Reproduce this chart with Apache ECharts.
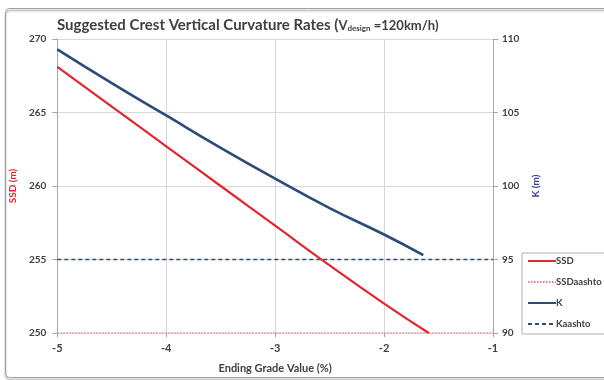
<!DOCTYPE html>
<html>
<head>
<meta charset="utf-8">
<script src="https://cdn.jsdelivr.net/npm/echarts@6/dist/echarts.min.js"></script>
<style>
  html, body { margin: 0; padding: 0; background: #fff; }
  #chart { width: 604px; height: 380px; }
</style>
</head>
<body>
<div id="chart"></div>
<script>
// Ending grade (%) and the resulting sight distance / curvature rate
const gradeSSD = [-5, -4.5, -4, -3.5, -3, -2.5, -2, -1.59];
const ssdValues = [268.1, 265.4, 262.7, 260.0, 257.3, 254.6, 252.0, 250.0];
const gradeK = [-5, -4.5, -4, -3.5, -3, -2.5, -2, -1.64];
const kValues = [109.3, 107.0, 104.8, 102.6, 100.5, 98.5, 96.7, 95.3];
// AASHTO reference levels
const ssdAashto = 250;
const kAashto = 95;
const gradeRange = [-5, -1];

const font = 'Lato, "Open Sans", sans-serif';
const textColor = '#404040';

const chart = echarts.init(document.getElementById('chart'));
chart.setOption({
  animation: false,
  backgroundColor: '#fff',
  graphic: [{
    type: 'rect',
    left: 3, top: 6,
    shape: { width: 612, height: 369, r: 4 },
    style: { fill: 'none', stroke: '#a0a0a0', lineWidth: 1,
      shadowColor: 'rgba(0,0,0,0.45)', shadowOffsetY: 2, shadowBlur: 2 },
    z: -1
  }],
  title: {
    text: 'Suggested Crest Vertical Curvature Rates ({s|V}{sub|design}{s| =120km/h)}',
    left: 52, top: 13,
    textStyle: {
      fontFamily: font, fontSize: 15, fontWeight: 'bold', color: textColor,
      rich: {
        s: { fontFamily: font, fontSize: 13, fontWeight: 'bold', color: textColor },
        sub: { fontFamily: font, fontSize: 8, fontWeight: 'bold', color: textColor, padding: [6, 0, 0, 0] }
      }
    }
  },
  grid: { left: 50, right: 111, top: 39, bottom: 47 },
  legend: {
    orient: 'vertical',
    left: 522, top: 253,
    backgroundColor: '#fff',
    borderColor: '#b0b0b0', borderWidth: 1, borderRadius: 0,
    padding: [3, 20, 5, 5],
    itemGap: 11,
    itemWidth: 28, itemHeight: 8,
    itemStyle: { opacity: 0 },
    textStyle: { fontFamily: font, fontSize: 9.5, fontWeight: 'bold', color: textColor, padding: [0, 0, 0, -5] },
    data: ['SSD', 'SSDaashto', 'K', 'Kaashto']
  },
  xAxis: {
    type: 'value', min: gradeRange[0], max: gradeRange[1], interval: 1,
    name: 'Ending Grade Value (%)', nameLocation: 'middle', nameGap: 30,
    nameTextStyle: { fontFamily: font, fontSize: 11, fontWeight: 'bold', color: textColor },
    axisLine: { show: false },
    axisTick: { show: true, length: 4, lineStyle: { color: '#a6a6a6' } },
    axisLabel: { fontFamily: font, fontSize: 11, fontWeight: 'bold', color: textColor, margin: 10 },
    splitLine: { show: true, lineStyle: { color: '#d9d9d9' } }
  },
  yAxis: [{
    type: 'value', min: 250, max: 270, interval: 5,
    name: 'SSD (m)', nameLocation: 'middle', nameGap: 34, nameRotate: 90,
    nameTextStyle: { fontFamily: font, fontSize: 10, fontWeight: 'bold', color: '#e02a2a' },
    axisLine: { show: true, lineStyle: { color: '#a6a6a6' } },
    axisTick: { show: true, length: 5, lineStyle: { color: '#a6a6a6' } },
    axisLabel: { fontFamily: font, fontSize: 10, fontWeight: 'bold', color: textColor, margin: 11 },
    splitLine: { show: true, lineStyle: { color: '#d9d9d9' } }
  }, {
    type: 'value', min: 90, max: 110, interval: 5,
    name: 'K (m)', nameLocation: 'middle', nameGap: 36, nameRotate: 90,
    nameTextStyle: { fontFamily: font, fontSize: 10, fontWeight: 'bold', color: '#3a3f8f' },
    axisLine: { show: true, lineStyle: { color: '#a6a6a6' } },
    axisTick: { show: true, length: 5, lineStyle: { color: '#a6a6a6' } },
    axisLabel: { fontFamily: font, fontSize: 10, fontWeight: 'bold', color: textColor, margin: 9 },
    splitLine: { show: false }
  }],
  series: [{
    name: 'SSD', type: 'line', yAxisIndex: 0, symbol: 'none', smooth: true,
    lineStyle: { color: '#e3262e', width: 2.2 }, itemStyle: { color: '#e3262e' },
    data: gradeSSD.map((g, i) => [g, ssdValues[i]]), z: 4
  }, {
    name: 'SSDaashto', type: 'line', yAxisIndex: 0, symbol: 'none',
    lineStyle: { color: '#e8808c', width: 1.5, type: [1.5, 1.5] }, itemStyle: { color: '#e8808c' },
    data: gradeRange.map(g => [g, ssdAashto]), z: 3
  }, {
    name: 'K', type: 'line', yAxisIndex: 1, symbol: 'none', smooth: true,
    lineStyle: { color: '#2c4a7a', width: 2.6 }, itemStyle: { color: '#2c4a7a' },
    data: gradeK.map((g, i) => [g, kValues[i]]), z: 4
  }, {
    name: 'Kaashto', type: 'line', yAxisIndex: 1, symbol: 'none',
    lineStyle: { color: '#2f4d72', width: 1.5, type: [4, 3] }, itemStyle: { color: '#2f4d72' },
    data: gradeRange.map(g => [g, kAashto]), z: 3
  }]
});
</script>
</body>
</html>
